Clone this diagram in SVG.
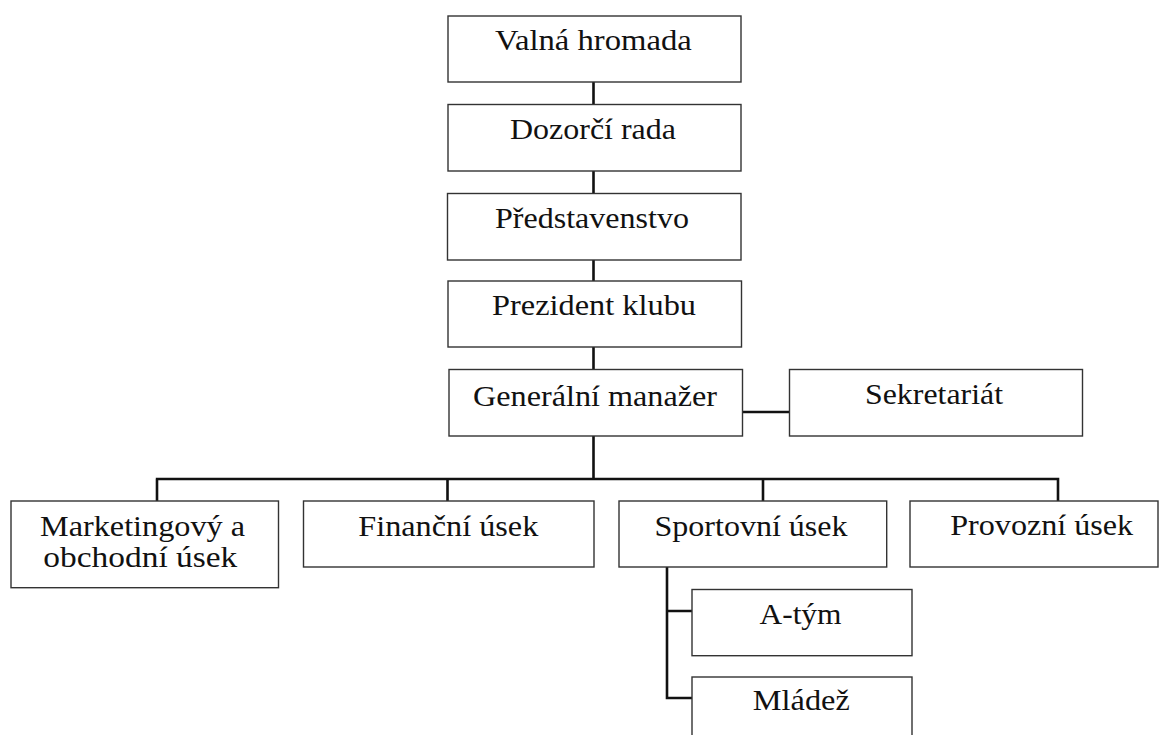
<svg xmlns="http://www.w3.org/2000/svg" width="1164" height="735" viewBox="0 0 1164 735">
<style>
.box{fill:#fff;stroke:#333;stroke-width:1.4}
.t{font-family:"Liberation Serif","Times New Roman",serif;font-size:29px;fill:#111;text-anchor:middle}
.c{stroke:#111;stroke-width:2.6;fill:none}
</style>
<rect width="1164" height="735" fill="#fff"/>
<g id="connectors">
<path class="c" d="M593.5 82V104.5M593.5 171V193.5M593.5 260V281M593.5 347V369.5M742.5 412H789.5M593.5 436V479M155.8 479H1059.3M157 479V501M447.5 479V501M763 479V501M1058 479V501M667 567V699.2M665.7 611H692M665.7 698H692"/>
</g>
<g id="valna"><rect class="box" x="448" y="16" width="293" height="66"/><text class="t" x="593.4" y="50" textLength="197" lengthAdjust="spacingAndGlyphs">Valná hromada</text></g>
<g id="dozorci"><rect class="box" x="448" y="104.5" width="293" height="66.5"/><text class="t" x="593" y="138.5" textLength="166" lengthAdjust="spacingAndGlyphs">Dozorčí rada</text></g>
<g id="predstavenstvo"><rect class="box" x="447.5" y="193.5" width="293.5" height="66.5"/><text class="t" x="592" y="228.3" textLength="194" lengthAdjust="spacingAndGlyphs">Představenstvo</text></g>
<g id="prezident"><rect class="box" x="448" y="281" width="293.5" height="66"/><text class="t" x="594" y="315" textLength="204" lengthAdjust="spacingAndGlyphs">Prezident klubu</text></g>
<g id="generalni"><rect class="box" x="449" y="369.5" width="293.5" height="66.5"/><text class="t" x="595" y="405.7" textLength="244" lengthAdjust="spacingAndGlyphs">Generální manažer</text></g>
<g id="sekretariat"><rect class="box" x="789.5" y="369.5" width="293" height="66.5"/><text class="t" x="934" y="404.3" textLength="138" lengthAdjust="spacingAndGlyphs">Sekretariát</text></g>
<g id="marketing"><rect class="box" x="11" y="501" width="267.5" height="86.7"/><text class="t" x="142.5" y="535.7" textLength="205" lengthAdjust="spacingAndGlyphs">Marketingový a</text><text class="t" x="140.3" y="567.3" textLength="194" lengthAdjust="spacingAndGlyphs">obchodní úsek</text></g>
<g id="financni"><rect class="box" x="303.5" y="501" width="290.5" height="66"/><text class="t" x="448.3" y="535.7" textLength="180" lengthAdjust="spacingAndGlyphs">Finanční úsek</text></g>
<g id="sportovni"><rect class="box" x="619" y="501" width="267.7" height="66"/><text class="t" x="751" y="535.7" textLength="193" lengthAdjust="spacingAndGlyphs">Sportovní úsek</text></g>
<g id="provozni"><rect class="box" x="910" y="501" width="248" height="66"/><text class="t" x="1041.7" y="535.3" textLength="183" lengthAdjust="spacingAndGlyphs">Provozní úsek</text></g>
<g id="atym"><rect class="box" x="692" y="589.5" width="220" height="66.2"/><text class="t" x="800.5" y="624" textLength="82" lengthAdjust="spacingAndGlyphs">A-tým</text></g>
<g id="mladez"><rect class="box" x="692" y="677" width="220" height="66"/><text class="t" x="801.3" y="710" textLength="97" lengthAdjust="spacingAndGlyphs">Mládež</text></g>
</svg>
